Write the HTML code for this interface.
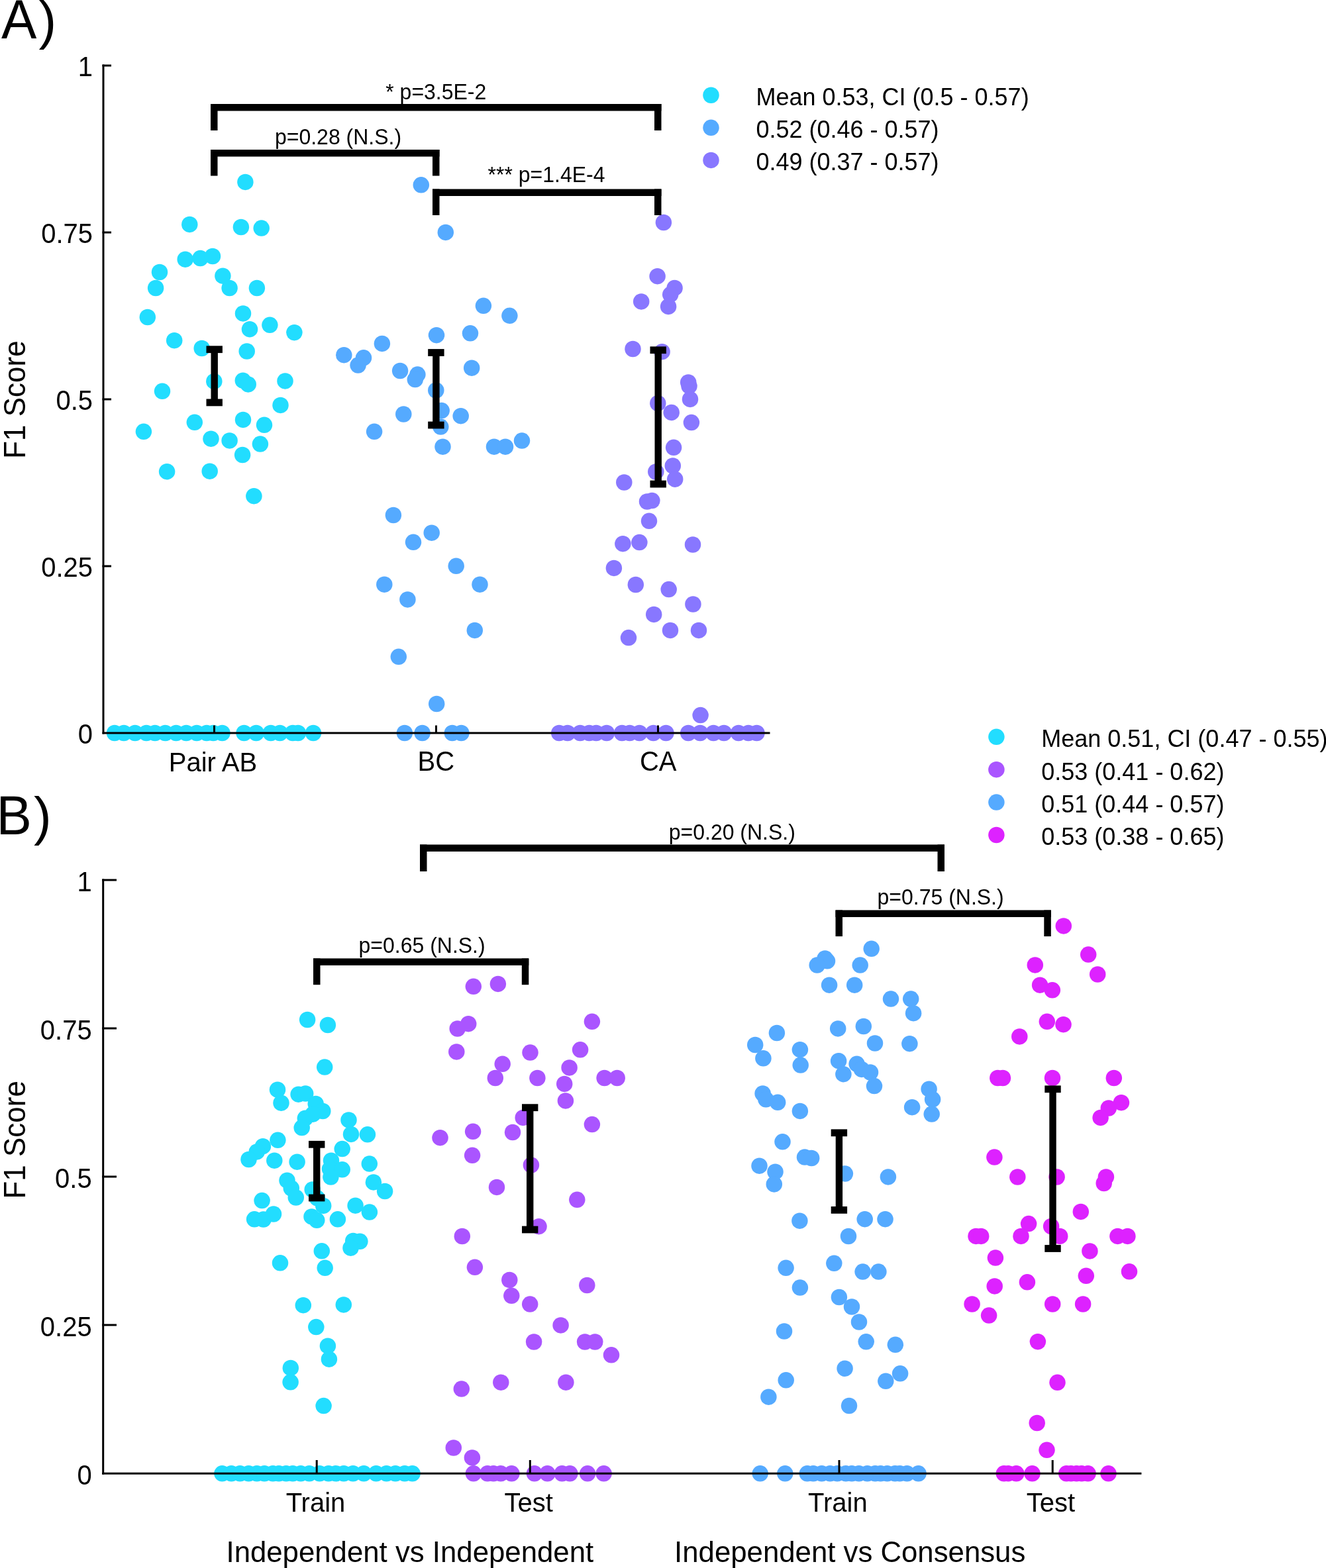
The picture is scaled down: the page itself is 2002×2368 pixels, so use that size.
<!DOCTYPE html>
<html><head><meta charset="utf-8"><title>F1 Score figure</title>
<style>
html,body{margin:0;padding:0;background:#fff;}
body{width:2002px;height:2368px;overflow:hidden;}
svg{display:block;}
text{font-family:"Liberation Sans",Arial,sans-serif;}
</style></head>
<body>
<svg width="2002" height="2368" viewBox="0 0 2002 2368" shape-rendering="geometricPrecision">
<rect x="0" y="0" width="2002" height="2368" fill="#fff"/>
<g fill="#22DDFF">
<circle cx="370.4" cy="274.9" r="12.25"/>
<circle cx="286.3" cy="338.9" r="12.25"/>
<circle cx="363.9" cy="343.0" r="12.25"/>
<circle cx="394.7" cy="344.6" r="12.25"/>
<circle cx="279.7" cy="391.7" r="12.25"/>
<circle cx="302.4" cy="390.1" r="12.25"/>
<circle cx="321.0" cy="387.0" r="12.25"/>
<circle cx="241.0" cy="411.0" r="12.25"/>
<circle cx="336.4" cy="416.7" r="12.25"/>
<circle cx="235.1" cy="435.0" r="12.25"/>
<circle cx="346.6" cy="435.0" r="12.25"/>
<circle cx="387.9" cy="435.0" r="12.25"/>
<circle cx="222.8" cy="479.0" r="12.25"/>
<circle cx="367.0" cy="473.4" r="12.25"/>
<circle cx="377.0" cy="497.2" r="12.25"/>
<circle cx="407.4" cy="490.8" r="12.25"/>
<circle cx="444.4" cy="502.2" r="12.25"/>
<circle cx="263.2" cy="514.2" r="12.25"/>
<circle cx="304.7" cy="526.0" r="12.25"/>
<circle cx="372.7" cy="530.5" r="12.25"/>
<circle cx="323.3" cy="575.9" r="12.25"/>
<circle cx="366.8" cy="574.7" r="12.25"/>
<circle cx="374.7" cy="580.4" r="12.25"/>
<circle cx="430.5" cy="575.4" r="12.25"/>
<circle cx="245.0" cy="590.8" r="12.25"/>
<circle cx="423.5" cy="611.9" r="12.25"/>
<circle cx="293.8" cy="637.8" r="12.25"/>
<circle cx="367.0" cy="633.9" r="12.25"/>
<circle cx="399.0" cy="641.8" r="12.25"/>
<circle cx="216.9" cy="651.8" r="12.25"/>
<circle cx="318.5" cy="662.7" r="12.25"/>
<circle cx="346.6" cy="665.4" r="12.25"/>
<circle cx="392.9" cy="670.6" r="12.25"/>
<circle cx="366.1" cy="687.0" r="12.25"/>
<circle cx="252.1" cy="712.2" r="12.25"/>
<circle cx="316.7" cy="711.7" r="12.25"/>
<circle cx="383.4" cy="749.2" r="12.25"/>
</g>
<g fill="#22DDFF">
<circle cx="173.0" cy="1107.0" r="12.25"/>
<circle cx="187.0" cy="1107.0" r="12.25"/>
<circle cx="203.9" cy="1107.0" r="12.25"/>
<circle cx="221.0" cy="1107.0" r="12.25"/>
<circle cx="234.0" cy="1107.0" r="12.25"/>
<circle cx="249.5" cy="1107.0" r="12.25"/>
<circle cx="265.9" cy="1107.0" r="12.25"/>
<circle cx="281.2" cy="1107.0" r="12.25"/>
<circle cx="297.0" cy="1107.0" r="12.25"/>
<circle cx="312.0" cy="1107.0" r="12.25"/>
<circle cx="322.0" cy="1107.0" r="12.25"/>
<circle cx="335.5" cy="1107.0" r="12.25"/>
<circle cx="368.5" cy="1107.0" r="12.25"/>
<circle cx="386.8" cy="1107.0" r="12.25"/>
<circle cx="408.8" cy="1107.0" r="12.25"/>
<circle cx="422.6" cy="1107.0" r="12.25"/>
<circle cx="442.0" cy="1107.0" r="12.25"/>
<circle cx="450.0" cy="1107.0" r="12.25"/>
<circle cx="473.0" cy="1107.0" r="12.25"/>
</g>
<g fill="#55AAFF">
<circle cx="635.8" cy="279.3" r="12.25"/>
<circle cx="672.8" cy="350.9" r="12.25"/>
<circle cx="729.9" cy="461.8" r="12.25"/>
<circle cx="769.4" cy="476.8" r="12.25"/>
<circle cx="659.0" cy="506.2" r="12.25"/>
<circle cx="710.0" cy="503.3" r="12.25"/>
<circle cx="576.9" cy="518.9" r="12.25"/>
<circle cx="519.3" cy="536.2" r="12.25"/>
<circle cx="549.0" cy="540.3" r="12.25"/>
<circle cx="540.6" cy="551.6" r="12.25"/>
<circle cx="604.1" cy="560.0" r="12.25"/>
<circle cx="630.4" cy="565.6" r="12.25"/>
<circle cx="626.8" cy="573.1" r="12.25"/>
<circle cx="712.2" cy="555.7" r="12.25"/>
<circle cx="658.3" cy="589.5" r="12.25"/>
<circle cx="666.7" cy="620.1" r="12.25"/>
<circle cx="695.7" cy="628.2" r="12.25"/>
<circle cx="609.3" cy="625.5" r="12.25"/>
<circle cx="665.3" cy="644.6" r="12.25"/>
<circle cx="565.1" cy="651.8" r="12.25"/>
<circle cx="668.5" cy="674.7" r="12.25"/>
<circle cx="746.0" cy="674.7" r="12.25"/>
<circle cx="763.0" cy="674.7" r="12.25"/>
<circle cx="788.0" cy="665.6" r="12.25"/>
<circle cx="593.9" cy="778.0" r="12.25"/>
<circle cx="651.7" cy="804.7" r="12.25"/>
<circle cx="624.0" cy="818.8" r="12.25"/>
<circle cx="688.7" cy="854.8" r="12.25"/>
<circle cx="580.3" cy="882.7" r="12.25"/>
<circle cx="724.5" cy="882.7" r="12.25"/>
<circle cx="615.4" cy="905.4" r="12.25"/>
<circle cx="716.8" cy="951.9" r="12.25"/>
<circle cx="601.8" cy="991.8" r="12.25"/>
<circle cx="659.2" cy="1063.0" r="12.25"/>
</g>
<g fill="#55AAFF">
<circle cx="610.9" cy="1107.0" r="12.25"/>
<circle cx="637.6" cy="1107.0" r="12.25"/>
<circle cx="682.8" cy="1107.0" r="12.25"/>
<circle cx="696.4" cy="1107.0" r="12.25"/>
</g>
<g fill="#8877FF">
<circle cx="1001.9" cy="336.0" r="12.25"/>
<circle cx="992.6" cy="417.2" r="12.25"/>
<circle cx="1018.6" cy="434.9" r="12.25"/>
<circle cx="1012.2" cy="444.8" r="12.25"/>
<circle cx="968.2" cy="455.4" r="12.25"/>
<circle cx="1009.1" cy="462.9" r="12.25"/>
<circle cx="955.5" cy="527.0" r="12.25"/>
<circle cx="999.6" cy="531.2" r="12.25"/>
<circle cx="1039.2" cy="577.4" r="12.25"/>
<circle cx="1040.5" cy="583.1" r="12.25"/>
<circle cx="1042.0" cy="602.9" r="12.25"/>
<circle cx="993.3" cy="609.0" r="12.25"/>
<circle cx="1013.7" cy="622.9" r="12.25"/>
<circle cx="1043.9" cy="638.1" r="12.25"/>
<circle cx="1017.1" cy="675.8" r="12.25"/>
<circle cx="1015.8" cy="703.5" r="12.25"/>
<circle cx="990.3" cy="712.5" r="12.25"/>
<circle cx="1019.2" cy="723.7" r="12.25"/>
<circle cx="942.3" cy="728.5" r="12.25"/>
<circle cx="977.0" cy="757.5" r="12.25"/>
<circle cx="984.4" cy="756.1" r="12.25"/>
<circle cx="980.0" cy="786.8" r="12.25"/>
<circle cx="940.4" cy="821.2" r="12.25"/>
<circle cx="965.4" cy="819.1" r="12.25"/>
<circle cx="1046.0" cy="822.5" r="12.25"/>
<circle cx="926.9" cy="857.9" r="12.25"/>
<circle cx="959.8" cy="883.0" r="12.25"/>
<circle cx="1009.7" cy="890.1" r="12.25"/>
<circle cx="1046.4" cy="912.5" r="12.25"/>
<circle cx="987.2" cy="927.9" r="12.25"/>
<circle cx="1012.0" cy="951.9" r="12.25"/>
<circle cx="1055.0" cy="951.9" r="12.25"/>
<circle cx="949.0" cy="963.1" r="12.25"/>
<circle cx="1057.6" cy="1080.1" r="12.25"/>
</g>
<g fill="#8877FF">
<circle cx="844.2" cy="1107.0" r="12.25"/>
<circle cx="856.9" cy="1107.0" r="12.25"/>
<circle cx="875.9" cy="1107.0" r="12.25"/>
<circle cx="889.6" cy="1107.0" r="12.25"/>
<circle cx="900.1" cy="1107.0" r="12.25"/>
<circle cx="915.9" cy="1107.0" r="12.25"/>
<circle cx="939.1" cy="1107.0" r="12.25"/>
<circle cx="950.7" cy="1107.0" r="12.25"/>
<circle cx="965.4" cy="1107.0" r="12.25"/>
<circle cx="986.5" cy="1107.0" r="12.25"/>
<circle cx="1005.5" cy="1107.0" r="12.25"/>
<circle cx="1039.2" cy="1107.0" r="12.25"/>
<circle cx="1057.1" cy="1107.0" r="12.25"/>
<circle cx="1077.2" cy="1107.0" r="12.25"/>
<circle cx="1093.0" cy="1107.0" r="12.25"/>
<circle cx="1115.1" cy="1107.0" r="12.25"/>
<circle cx="1129.9" cy="1107.0" r="12.25"/>
<circle cx="1142.5" cy="1107.0" r="12.25"/>
</g>
<rect x="318.50" y="527.70" width="10.40" height="80.20" fill="#000"/>
<rect x="311.50" y="522.30" width="24.40" height="10.80" fill="#000"/>
<rect x="311.50" y="602.50" width="24.40" height="10.80" fill="#000"/>
<rect x="653.20" y="532.50" width="10.40" height="109.50" fill="#000"/>
<rect x="646.20" y="527.10" width="24.40" height="10.80" fill="#000"/>
<rect x="646.20" y="636.60" width="24.40" height="10.80" fill="#000"/>
<rect x="988.50" y="528.70" width="10.40" height="202.30" fill="#000"/>
<rect x="981.50" y="523.30" width="24.40" height="10.80" fill="#000"/>
<rect x="981.50" y="725.60" width="24.40" height="10.80" fill="#000"/>
<rect x="154.50" y="97.50" width="3.00" height="1011.00" fill="#000"/>
<rect x="154.50" y="1105.50" width="1008.00" height="3.00" fill="#000"/>
<rect x="154.50" y="97.50" width="13.50" height="3.00" fill="#000"/>
<rect x="154.50" y="349.50" width="13.50" height="3.00" fill="#000"/>
<rect x="154.50" y="601.50" width="13.50" height="3.00" fill="#000"/>
<rect x="154.50" y="853.50" width="13.50" height="3.00" fill="#000"/>
<rect x="322.00" y="1095.50" width="3.00" height="11.50" fill="#000"/>
<rect x="657.00" y="1095.50" width="3.00" height="11.50" fill="#000"/>
<rect x="992.00" y="1095.50" width="3.00" height="11.50" fill="#000"/>
<rect x="318.00" y="157.00" width="680.50" height="10.50" fill="#000"/>
<rect x="318.00" y="157.00" width="10.50" height="40.00" fill="#000"/>
<rect x="988.00" y="157.00" width="10.50" height="40.00" fill="#000"/>
<rect x="318.00" y="226.00" width="345.50" height="10.50" fill="#000"/>
<rect x="318.00" y="226.00" width="10.50" height="39.50" fill="#000"/>
<rect x="653.00" y="226.00" width="10.50" height="39.50" fill="#000"/>
<rect x="653.00" y="285.50" width="345.50" height="10.50" fill="#000"/>
<rect x="653.00" y="285.50" width="10.50" height="39.50" fill="#000"/>
<rect x="988.00" y="285.50" width="10.50" height="39.50" fill="#000"/>
<g fill="#22DDFF">
<circle cx="464.1" cy="1540.0" r="12.25"/>
<circle cx="494.9" cy="1548.0" r="12.25"/>
<circle cx="490.2" cy="1611.6" r="12.25"/>
<circle cx="419.0" cy="1645.7" r="12.25"/>
<circle cx="424.5" cy="1665.7" r="12.25"/>
<circle cx="450.6" cy="1652.7" r="12.25"/>
<circle cx="461.2" cy="1651.6" r="12.25"/>
<circle cx="476.7" cy="1666.9" r="12.25"/>
<circle cx="487.3" cy="1678.0" r="12.25"/>
<circle cx="460.8" cy="1688.8" r="12.25"/>
<circle cx="472.4" cy="1682.7" r="12.25"/>
<circle cx="455.7" cy="1703.1" r="12.25"/>
<circle cx="526.5" cy="1691.4" r="12.25"/>
<circle cx="530.0" cy="1712.9" r="12.25"/>
<circle cx="554.9" cy="1713.3" r="12.25"/>
<circle cx="419.4" cy="1721.8" r="12.25"/>
<circle cx="396.9" cy="1731.2" r="12.25"/>
<circle cx="387.8" cy="1739.4" r="12.25"/>
<circle cx="375.5" cy="1751.0" r="12.25"/>
<circle cx="414.3" cy="1752.7" r="12.25"/>
<circle cx="448.6" cy="1754.7" r="12.25"/>
<circle cx="516.7" cy="1735.1" r="12.25"/>
<circle cx="500.0" cy="1752.7" r="12.25"/>
<circle cx="498.0" cy="1765.3" r="12.25"/>
<circle cx="516.7" cy="1766.3" r="12.25"/>
<circle cx="499.4" cy="1777.6" r="12.25"/>
<circle cx="557.8" cy="1757.6" r="12.25"/>
<circle cx="433.5" cy="1782.7" r="12.25"/>
<circle cx="439.8" cy="1794.5" r="12.25"/>
<circle cx="563.9" cy="1785.4" r="12.25"/>
<circle cx="581.1" cy="1799.0" r="12.25"/>
<circle cx="471.7" cy="1796.5" r="12.25"/>
<circle cx="446.8" cy="1808.5" r="12.25"/>
<circle cx="478.8" cy="1809.3" r="12.25"/>
<circle cx="488.2" cy="1820.9" r="12.25"/>
<circle cx="395.6" cy="1813.1" r="12.25"/>
<circle cx="384.1" cy="1841.3" r="12.25"/>
<circle cx="397.7" cy="1841.6" r="12.25"/>
<circle cx="413.0" cy="1833.5" r="12.25"/>
<circle cx="470.5" cy="1837.4" r="12.25"/>
<circle cx="478.3" cy="1842.8" r="12.25"/>
<circle cx="509.9" cy="1841.3" r="12.25"/>
<circle cx="536.6" cy="1820.7" r="12.25"/>
<circle cx="557.9" cy="1830.6" r="12.25"/>
<circle cx="533.2" cy="1874.0" r="12.25"/>
<circle cx="543.4" cy="1874.8" r="12.25"/>
<circle cx="529.5" cy="1884.7" r="12.25"/>
<circle cx="485.8" cy="1889.3" r="12.25"/>
<circle cx="423.0" cy="1907.3" r="12.25"/>
<circle cx="490.7" cy="1914.8" r="12.25"/>
<circle cx="457.8" cy="1971.2" r="12.25"/>
<circle cx="518.8" cy="1970.4" r="12.25"/>
<circle cx="477.3" cy="2004.1" r="12.25"/>
<circle cx="494.9" cy="2032.7" r="12.25"/>
<circle cx="496.9" cy="2052.7" r="12.25"/>
<circle cx="438.8" cy="2065.9" r="12.25"/>
<circle cx="438.6" cy="2087.3" r="12.25"/>
<circle cx="488.6" cy="2123.1" r="12.25"/>
</g>
<g fill="#22DDFF">
<circle cx="335.4" cy="2225.3" r="12.25"/>
<circle cx="349.3" cy="2225.3" r="12.25"/>
<circle cx="362.4" cy="2225.3" r="12.25"/>
<circle cx="375.4" cy="2225.3" r="12.25"/>
<circle cx="387.8" cy="2225.3" r="12.25"/>
<circle cx="399.2" cy="2225.3" r="12.25"/>
<circle cx="412.0" cy="2225.3" r="12.25"/>
<circle cx="421.0" cy="2225.3" r="12.25"/>
<circle cx="432.0" cy="2225.3" r="12.25"/>
<circle cx="442.0" cy="2225.3" r="12.25"/>
<circle cx="454.0" cy="2225.3" r="12.25"/>
<circle cx="467.0" cy="2225.3" r="12.25"/>
<circle cx="482.5" cy="2225.3" r="12.25"/>
<circle cx="496.0" cy="2225.3" r="12.25"/>
<circle cx="507.0" cy="2225.3" r="12.25"/>
<circle cx="519.0" cy="2225.3" r="12.25"/>
<circle cx="533.0" cy="2225.3" r="12.25"/>
<circle cx="549.3" cy="2225.3" r="12.25"/>
<circle cx="567.9" cy="2225.3" r="12.25"/>
<circle cx="583.5" cy="2225.3" r="12.25"/>
<circle cx="597.0" cy="2225.3" r="12.25"/>
<circle cx="611.0" cy="2225.3" r="12.25"/>
<circle cx="622.6" cy="2225.3" r="12.25"/>
</g>
<g fill="#AA55FF">
<circle cx="714.8" cy="1489.8" r="12.25"/>
<circle cx="751.9" cy="1485.9" r="12.25"/>
<circle cx="690.7" cy="1553.5" r="12.25"/>
<circle cx="707.2" cy="1546.2" r="12.25"/>
<circle cx="689.3" cy="1588.4" r="12.25"/>
<circle cx="893.9" cy="1542.8" r="12.25"/>
<circle cx="800.5" cy="1589.6" r="12.25"/>
<circle cx="876.1" cy="1585.3" r="12.25"/>
<circle cx="758.7" cy="1606.8" r="12.25"/>
<circle cx="859.6" cy="1612.4" r="12.25"/>
<circle cx="747.8" cy="1628.0" r="12.25"/>
<circle cx="811.4" cy="1628.0" r="12.25"/>
<circle cx="852.2" cy="1636.9" r="12.25"/>
<circle cx="912.6" cy="1628.0" r="12.25"/>
<circle cx="931.7" cy="1628.0" r="12.25"/>
<circle cx="853.9" cy="1662.4" r="12.25"/>
<circle cx="789.7" cy="1687.9" r="12.25"/>
<circle cx="893.9" cy="1698.1" r="12.25"/>
<circle cx="664.5" cy="1718.2" r="12.25"/>
<circle cx="714.1" cy="1708.8" r="12.25"/>
<circle cx="774.0" cy="1710.0" r="12.25"/>
<circle cx="713.1" cy="1744.8" r="12.25"/>
<circle cx="801.9" cy="1759.5" r="12.25"/>
<circle cx="750.0" cy="1792.9" r="12.25"/>
<circle cx="871.3" cy="1811.8" r="12.25"/>
<circle cx="813.5" cy="1852.2" r="12.25"/>
<circle cx="697.8" cy="1867.0" r="12.25"/>
<circle cx="716.9" cy="1913.8" r="12.25"/>
<circle cx="769.3" cy="1933.0" r="12.25"/>
<circle cx="772.3" cy="1956.8" r="12.25"/>
<circle cx="800.2" cy="1969.6" r="12.25"/>
<circle cx="886.3" cy="1941.0" r="12.25"/>
<circle cx="846.6" cy="2001.4" r="12.25"/>
<circle cx="806.1" cy="2026.5" r="12.25"/>
<circle cx="883.1" cy="2026.5" r="12.25"/>
<circle cx="898.3" cy="2026.5" r="12.25"/>
<circle cx="923.0" cy="2046.3" r="12.25"/>
<circle cx="696.8" cy="2097.6" r="12.25"/>
<circle cx="756.3" cy="2087.7" r="12.25"/>
<circle cx="854.4" cy="2087.7" r="12.25"/>
<circle cx="684.8" cy="2186.5" r="12.25"/>
<circle cx="712.9" cy="2201.4" r="12.25"/>
</g>
<g fill="#AA55FF">
<circle cx="714.9" cy="2225.3" r="12.25"/>
<circle cx="736.0" cy="2225.3" r="12.25"/>
<circle cx="745.0" cy="2225.3" r="12.25"/>
<circle cx="756.1" cy="2225.3" r="12.25"/>
<circle cx="772.4" cy="2225.3" r="12.25"/>
<circle cx="806.9" cy="2225.3" r="12.25"/>
<circle cx="826.5" cy="2225.3" r="12.25"/>
<circle cx="848.6" cy="2225.3" r="12.25"/>
<circle cx="860.4" cy="2225.3" r="12.25"/>
<circle cx="887.1" cy="2225.3" r="12.25"/>
<circle cx="911.6" cy="2225.3" r="12.25"/>
</g>
<g fill="#55AAFF">
<circle cx="1315.7" cy="1432.8" r="12.25"/>
<circle cx="1245.6" cy="1447.4" r="12.25"/>
<circle cx="1249.0" cy="1451.3" r="12.25"/>
<circle cx="1233.7" cy="1457.6" r="12.25"/>
<circle cx="1298.7" cy="1457.6" r="12.25"/>
<circle cx="1252.1" cy="1487.7" r="12.25"/>
<circle cx="1290.2" cy="1487.7" r="12.25"/>
<circle cx="1345.0" cy="1508.6" r="12.25"/>
<circle cx="1375.2" cy="1508.6" r="12.25"/>
<circle cx="1379.1" cy="1530.2" r="12.25"/>
<circle cx="1172.9" cy="1560.0" r="12.25"/>
<circle cx="1265.2" cy="1553.4" r="12.25"/>
<circle cx="1303.8" cy="1550.0" r="12.25"/>
<circle cx="1140.2" cy="1578.0" r="12.25"/>
<circle cx="1152.4" cy="1598.3" r="12.25"/>
<circle cx="1207.9" cy="1585.2" r="12.25"/>
<circle cx="1208.7" cy="1608.6" r="12.25"/>
<circle cx="1321.0" cy="1575.5" r="12.25"/>
<circle cx="1373.4" cy="1576.2" r="12.25"/>
<circle cx="1266.1" cy="1602.2" r="12.25"/>
<circle cx="1273.4" cy="1622.2" r="12.25"/>
<circle cx="1293.6" cy="1606.8" r="12.25"/>
<circle cx="1300.9" cy="1614.9" r="12.25"/>
<circle cx="1314.0" cy="1619.5" r="12.25"/>
<circle cx="1320.0" cy="1640.1" r="12.25"/>
<circle cx="1151.6" cy="1651.5" r="12.25"/>
<circle cx="1156.4" cy="1660.3" r="12.25"/>
<circle cx="1174.2" cy="1664.8" r="12.25"/>
<circle cx="1207.9" cy="1677.9" r="12.25"/>
<circle cx="1402.6" cy="1644.7" r="12.25"/>
<circle cx="1408.1" cy="1660.3" r="12.25"/>
<circle cx="1377.1" cy="1672.2" r="12.25"/>
<circle cx="1406.7" cy="1682.6" r="12.25"/>
<circle cx="1181.5" cy="1724.3" r="12.25"/>
<circle cx="1146.5" cy="1760.7" r="12.25"/>
<circle cx="1170.5" cy="1769.7" r="12.25"/>
<circle cx="1168.8" cy="1788.4" r="12.25"/>
<circle cx="1215.0" cy="1747.6" r="12.25"/>
<circle cx="1225.2" cy="1749.0" r="12.25"/>
<circle cx="1275.9" cy="1772.6" r="12.25"/>
<circle cx="1340.9" cy="1777.4" r="12.25"/>
<circle cx="1207.4" cy="1843.7" r="12.25"/>
<circle cx="1305.7" cy="1841.2" r="12.25"/>
<circle cx="1336.5" cy="1841.2" r="12.25"/>
<circle cx="1281.0" cy="1867.0" r="12.25"/>
<circle cx="1186.6" cy="1914.8" r="12.25"/>
<circle cx="1259.3" cy="1907.8" r="12.25"/>
<circle cx="1302.6" cy="1920.6" r="12.25"/>
<circle cx="1326.4" cy="1920.6" r="12.25"/>
<circle cx="1207.9" cy="1944.6" r="12.25"/>
<circle cx="1266.9" cy="1959.0" r="12.25"/>
<circle cx="1286.0" cy="1973.5" r="12.25"/>
<circle cx="1297.0" cy="1996.5" r="12.25"/>
<circle cx="1184.0" cy="2010.5" r="12.25"/>
<circle cx="1307.7" cy="2026.3" r="12.25"/>
<circle cx="1351.8" cy="2030.8" r="12.25"/>
<circle cx="1275.6" cy="2066.7" r="12.25"/>
<circle cx="1186.7" cy="2084.3" r="12.25"/>
<circle cx="1359.1" cy="2074.3" r="12.25"/>
<circle cx="1337.3" cy="2085.8" r="12.25"/>
<circle cx="1160.4" cy="2109.7" r="12.25"/>
<circle cx="1282.0" cy="2123.0" r="12.25"/>
</g>
<g fill="#55AAFF">
<circle cx="1147.7" cy="2225.3" r="12.25"/>
<circle cx="1185.3" cy="2225.3" r="12.25"/>
<circle cx="1218.8" cy="2225.3" r="12.25"/>
<circle cx="1227.9" cy="2225.3" r="12.25"/>
<circle cx="1240.6" cy="2225.3" r="12.25"/>
<circle cx="1253.3" cy="2225.3" r="12.25"/>
<circle cx="1264.2" cy="2225.3" r="12.25"/>
<circle cx="1276.9" cy="2225.3" r="12.25"/>
<circle cx="1286.0" cy="2225.3" r="12.25"/>
<circle cx="1296.8" cy="2225.3" r="12.25"/>
<circle cx="1309.5" cy="2225.3" r="12.25"/>
<circle cx="1321.3" cy="2225.3" r="12.25"/>
<circle cx="1329.5" cy="2225.3" r="12.25"/>
<circle cx="1339.5" cy="2225.3" r="12.25"/>
<circle cx="1351.3" cy="2225.3" r="12.25"/>
<circle cx="1358.5" cy="2225.3" r="12.25"/>
<circle cx="1369.4" cy="2225.3" r="12.25"/>
<circle cx="1386.6" cy="2225.3" r="12.25"/>
</g>
<g fill="#DD22FF">
<circle cx="1605.8" cy="1398.4" r="12.25"/>
<circle cx="1643.2" cy="1441.6" r="12.25"/>
<circle cx="1562.8" cy="1457.4" r="12.25"/>
<circle cx="1657.2" cy="1471.5" r="12.25"/>
<circle cx="1570.1" cy="1487.7" r="12.25"/>
<circle cx="1588.8" cy="1495.3" r="12.25"/>
<circle cx="1580.8" cy="1542.8" r="12.25"/>
<circle cx="1605.5" cy="1547.2" r="12.25"/>
<circle cx="1539.3" cy="1565.4" r="12.25"/>
<circle cx="1506.3" cy="1628.0" r="12.25"/>
<circle cx="1514.0" cy="1628.0" r="12.25"/>
<circle cx="1589.0" cy="1628.0" r="12.25"/>
<circle cx="1681.8" cy="1628.0" r="12.25"/>
<circle cx="1692.9" cy="1665.2" r="12.25"/>
<circle cx="1673.8" cy="1673.5" r="12.25"/>
<circle cx="1661.6" cy="1687.9" r="12.25"/>
<circle cx="1501.4" cy="1747.6" r="12.25"/>
<circle cx="1536.3" cy="1777.5" r="12.25"/>
<circle cx="1595.6" cy="1777.5" r="12.25"/>
<circle cx="1669.9" cy="1777.5" r="12.25"/>
<circle cx="1666.7" cy="1787.0" r="12.25"/>
<circle cx="1631.8" cy="1829.9" r="12.25"/>
<circle cx="1553.1" cy="1848.1" r="12.25"/>
<circle cx="1587.1" cy="1852.0" r="12.25"/>
<circle cx="1473.5" cy="1866.9" r="12.25"/>
<circle cx="1481.2" cy="1866.9" r="12.25"/>
<circle cx="1541.5" cy="1866.9" r="12.25"/>
<circle cx="1600.2" cy="1866.9" r="12.25"/>
<circle cx="1687.4" cy="1866.9" r="12.25"/>
<circle cx="1702.4" cy="1866.9" r="12.25"/>
<circle cx="1645.4" cy="1889.4" r="12.25"/>
<circle cx="1502.9" cy="1899.6" r="12.25"/>
<circle cx="1639.8" cy="1926.8" r="12.25"/>
<circle cx="1705.0" cy="1920.3" r="12.25"/>
<circle cx="1501.7" cy="1942.4" r="12.25"/>
<circle cx="1550.9" cy="1936.3" r="12.25"/>
<circle cx="1467.6" cy="1969.5" r="12.25"/>
<circle cx="1589.2" cy="1969.5" r="12.25"/>
<circle cx="1635.1" cy="1969.5" r="12.25"/>
<circle cx="1493.1" cy="1986.6" r="12.25"/>
<circle cx="1566.9" cy="2026.2" r="12.25"/>
<circle cx="1596.5" cy="2087.8" r="12.25"/>
<circle cx="1565.7" cy="2149.0" r="12.25"/>
<circle cx="1580.5" cy="2189.8" r="12.25"/>
</g>
<g fill="#DD22FF">
<circle cx="1515.8" cy="2225.3" r="12.25"/>
<circle cx="1522.5" cy="2225.3" r="12.25"/>
<circle cx="1534.4" cy="2225.3" r="12.25"/>
<circle cx="1558.5" cy="2225.3" r="12.25"/>
<circle cx="1610.2" cy="2225.3" r="12.25"/>
<circle cx="1617.0" cy="2225.3" r="12.25"/>
<circle cx="1625.4" cy="2225.3" r="12.25"/>
<circle cx="1633.0" cy="2225.3" r="12.25"/>
<circle cx="1642.6" cy="2225.3" r="12.25"/>
<circle cx="1673.5" cy="2225.3" r="12.25"/>
</g>
<rect x="473.00" y="1728.30" width="10.40" height="80.70" fill="#000"/>
<rect x="466.00" y="1722.90" width="24.40" height="10.80" fill="#000"/>
<rect x="466.00" y="1803.60" width="24.40" height="10.80" fill="#000"/>
<rect x="795.00" y="1672.70" width="10.40" height="184.30" fill="#000"/>
<rect x="788.00" y="1667.30" width="24.40" height="10.80" fill="#000"/>
<rect x="788.00" y="1851.60" width="24.40" height="10.80" fill="#000"/>
<rect x="1261.70" y="1710.80" width="10.40" height="116.60" fill="#000"/>
<rect x="1254.70" y="1705.40" width="24.40" height="10.80" fill="#000"/>
<rect x="1254.70" y="1822.00" width="24.40" height="10.80" fill="#000"/>
<rect x="1584.30" y="1644.80" width="10.40" height="240.70" fill="#000"/>
<rect x="1577.30" y="1639.40" width="24.40" height="10.80" fill="#000"/>
<rect x="1577.30" y="1880.10" width="24.40" height="10.80" fill="#000"/>
<rect x="154.20" y="1327.50" width="3.00" height="899.25" fill="#000"/>
<rect x="154.20" y="2223.75" width="1569.20" height="3.00" fill="#000"/>
<rect x="154.20" y="1327.50" width="21.80" height="3.00" fill="#000"/>
<rect x="154.20" y="1551.50" width="21.80" height="3.00" fill="#000"/>
<rect x="154.20" y="1775.50" width="21.80" height="3.00" fill="#000"/>
<rect x="154.20" y="1999.50" width="21.80" height="3.00" fill="#000"/>
<rect x="476.70" y="2205.00" width="3.00" height="20.00" fill="#000"/>
<rect x="798.80" y="2205.00" width="3.00" height="20.00" fill="#000"/>
<rect x="1265.50" y="2205.00" width="3.00" height="20.00" fill="#000"/>
<rect x="1587.70" y="2205.00" width="3.00" height="20.00" fill="#000"/>
<rect x="634.00" y="1275.50" width="792.00" height="10.50" fill="#000"/>
<rect x="634.00" y="1275.50" width="10.50" height="40.50" fill="#000"/>
<rect x="1415.50" y="1275.50" width="10.50" height="40.50" fill="#000"/>
<rect x="473.00" y="1447.40" width="325.30" height="10.50" fill="#000"/>
<rect x="473.00" y="1447.40" width="10.50" height="39.80" fill="#000"/>
<rect x="787.80" y="1447.40" width="10.50" height="39.80" fill="#000"/>
<rect x="1261.50" y="1374.50" width="325.30" height="10.50" fill="#000"/>
<rect x="1261.50" y="1374.50" width="10.50" height="39.60" fill="#000"/>
<rect x="1576.30" y="1374.50" width="10.50" height="39.60" fill="#000"/>
<circle cx="1073.5" cy="143.75" r="12.25" fill="#22DDFF"/>
<circle cx="1073.5" cy="192.85" r="12.25" fill="#55AAFF"/>
<circle cx="1073.5" cy="241.95" r="12.25" fill="#8877FF"/>
<circle cx="1504.4" cy="1112.80" r="12.25" fill="#22DDFF"/>
<circle cx="1504.4" cy="1162.20" r="12.25" fill="#AA55FF"/>
<circle cx="1504.4" cy="1211.60" r="12.25" fill="#55AAFF"/>
<circle cx="1504.4" cy="1261.00" r="12.25" fill="#DD22FF"/>
<g font-family="Liberation Sans, Arial, sans-serif" fill="#000">
<text transform="translate(2.00,58.00) scale(1,1.04)" font-size="80" text-anchor="start">A</text>
<text transform="translate(58.40,58.00)" font-size="80" text-anchor="start">)</text>
<text transform="translate(-5.50,1260.00) scale(1,1.04)" font-size="80" text-anchor="start">B</text>
<text transform="translate(50.90,1260.00)" font-size="80" text-anchor="start">)</text>
<text transform="translate(140.00,115.00) scale(1,1.04)" font-size="40.0" text-anchor="end">1</text>
<text transform="translate(140.00,367.00) scale(1,1.04)" font-size="40.0" text-anchor="end">0.75</text>
<text transform="translate(140.00,619.00) scale(1,1.04)" font-size="40.0" text-anchor="end">0.5</text>
<text transform="translate(140.00,871.00) scale(1,1.04)" font-size="40.0" text-anchor="end">0.25</text>
<text transform="translate(140.00,1123.00) scale(1,1.04)" font-size="40.0" text-anchor="end">0</text>
<text transform="translate(138.70,1346.00) scale(1,1.04)" font-size="40.0" text-anchor="end">1</text>
<text transform="translate(138.70,1570.00) scale(1,1.04)" font-size="40.0" text-anchor="end">0.75</text>
<text transform="translate(138.70,1794.00) scale(1,1.04)" font-size="40.0" text-anchor="end">0.5</text>
<text transform="translate(138.70,2018.00) scale(1,1.04)" font-size="40.0" text-anchor="end">0.25</text>
<text transform="translate(138.70,2242.00) scale(1,1.04)" font-size="40.0" text-anchor="end">0</text>
<text transform="translate(321.50,1164.60) scale(1,1.02)" font-size="40.0" text-anchor="middle">Pair AB</text>
<text transform="translate(658.40,1164.40) scale(1,1.04)" font-size="40.0" text-anchor="middle">BC</text>
<text transform="translate(993.70,1164.40) scale(1,1.04)" font-size="40.0" text-anchor="middle">CA</text>
<text transform="translate(476.50,2283.40) scale(1,1.0)" font-size="40.0" text-anchor="middle">Train</text>
<text transform="translate(798.20,2283.40) scale(1,1.0)" font-size="40.0" text-anchor="middle">Test</text>
<text transform="translate(1264.90,2283.40) scale(1,1.0)" font-size="40.0" text-anchor="middle">Train</text>
<text transform="translate(1586.50,2283.40) scale(1,1.0)" font-size="40.0" text-anchor="middle">Test</text>
<text transform="translate(618.80,2359.00) scale(1,1.0)" font-size="43.75" text-anchor="middle">Independent vs Independent</text>
<text transform="translate(1283.20,2359.00) scale(1,1.0)" font-size="43.75" text-anchor="middle">Independent vs Consensus</text>
<text transform="translate(38.30,603.60) rotate(-90) scale(1,1.03)" font-size="44.0" text-anchor="middle">F1 Score</text>
<text transform="translate(38.10,1721.30) rotate(-90) scale(1,1.03)" font-size="44.0" text-anchor="middle">F1 Score</text>
<text transform="translate(658.30,149.50) scale(1,1.04)" font-size="32.0" text-anchor="middle">* p=3.5E-2</text>
<text transform="translate(510.50,217.50) scale(1,1.04)" font-size="32.0" text-anchor="middle">p=0.28 (N.S.)</text>
<text transform="translate(825.00,274.50) scale(1,1.04)" font-size="32.0" text-anchor="middle">*** p=1.4E-4</text>
<text transform="translate(1105.30,1267.70) scale(1,1.04)" font-size="32.0" text-anchor="middle">p=0.20 (N.S.)</text>
<text transform="translate(637.10,1438.80) scale(1,1.04)" font-size="32.0" text-anchor="middle">p=0.65 (N.S.)</text>
<text transform="translate(1420.10,1366.30) scale(1,1.04)" font-size="32.0" text-anchor="middle">p=0.75 (N.S.)</text>
<text transform="translate(1141.50,159.00) scale(1,1.04)" font-size="36.0" text-anchor="start">Mean 0.53, CI (0.5 - 0.57)</text>
<text transform="translate(1141.50,208.05) scale(1,1.04)" font-size="36.0" text-anchor="start">0.52 (0.46 - 0.57)</text>
<text transform="translate(1141.50,257.10) scale(1,1.04)" font-size="36.0" text-anchor="start">0.49 (0.37 - 0.57)</text>
<text transform="translate(1572.30,1128.20) scale(1,1.04)" font-size="36.0" text-anchor="start">Mean 0.51, CI (0.47 - 0.55)</text>
<text transform="translate(1572.30,1177.50) scale(1,1.04)" font-size="36.0" text-anchor="start">0.53 (0.41 - 0.62)</text>
<text transform="translate(1572.30,1226.80) scale(1,1.04)" font-size="36.0" text-anchor="start">0.51 (0.44 - 0.57)</text>
<text transform="translate(1572.30,1276.10) scale(1,1.04)" font-size="36.0" text-anchor="start">0.53 (0.38 - 0.65)</text>
</g>
</svg>
</body></html>
